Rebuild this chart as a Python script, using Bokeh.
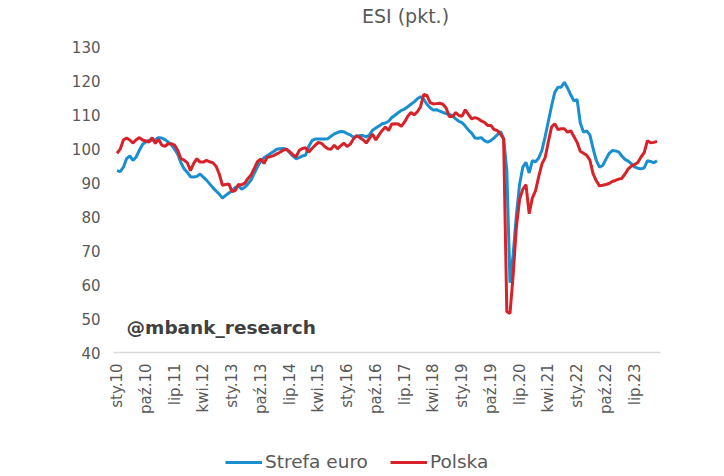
import math
from bokeh.plotting import figure
from bokeh.layouts import column
from bokeh.models import FixedTicker, Legend, LegendItem, Label, Range1d
from bokeh.core.properties import value
from bokeh.embed import file_html
from bokeh.resources import INLINE

# ---------------- data (monthly, from sty.10) ----------------
strefa_euro = [
    93.5, 93.2, 94.5, 97.0, 97.8, 96.5, 97.5, 99.5, 101.2, 101.9, 102.4, 102.4,
    102.6, 103.2, 103.1, 102.6, 101.9, 101.1, 99.8, 98.3, 95.8, 94.0, 93.0, 91.7,
    91.6, 91.8, 92.5, 91.6, 90.7, 89.6, 88.5, 87.5, 86.6, 85.4, 86.2, 86.9,
    87.6, 88.5, 89.0, 88.0, 88.6, 89.6, 90.8, 92.8, 94.7, 96.3, 97.3, 97.9,
    98.5, 99.1, 99.8, 99.9, 100.0, 99.8, 98.8, 97.8, 97.0, 97.3, 97.8, 98.0,
    100.6, 102.3, 102.8, 102.8, 102.8, 102.8, 102.9, 103.6, 104.3, 104.7, 105.0, 104.9,
    104.4, 104.0, 103.3, 103.5, 103.8, 103.8, 103.4, 104.0, 105.4, 106.0, 106.6, 107.3,
    107.5, 108.0, 109.1, 109.8, 110.5, 111.2, 111.6, 112.3, 113.0, 113.7, 114.6, 115.2,
    114.5, 113.0, 112.0, 111.3, 111.4, 111.0, 110.6, 110.3, 110.0, 109.6, 108.7, 108.0,
    107.6, 106.6, 105.4, 104.5, 103.1, 103.0, 103.2, 102.3, 101.9, 102.3, 103.1, 104.0,
    105.0, 103.0, 93.5, 60.5, 69.0, 80.5, 89.5, 94.5, 95.9, 92.8, 96.4, 96.1,
    97.2, 99.5, 103.5, 108.0, 112.5, 116.5, 118.0, 118.0, 119.5, 117.8, 115.8, 114.0,
    114.4, 107.5, 104.8, 105.2, 104.0, 100.0, 96.5, 94.5, 95.0, 96.8, 98.5, 99.4,
    99.3, 99.0, 97.8, 96.8, 96.3, 95.5, 94.6, 94.2, 94.0, 94.3, 96.4, 96.2,
    95.8, 96.4,
]
polska = [
    98.6, 99.8, 102.5, 103.1, 102.5, 101.6, 102.6, 103.2, 102.5, 102.2, 101.9, 103.2,
    101.5, 102.7, 101.0, 100.6, 101.4, 101.4, 101.0, 99.5, 97.0, 96.6, 95.8, 93.5,
    95.6, 97.0, 96.0, 96.0, 96.5, 96.1, 95.8, 94.8, 92.5, 89.2, 89.4, 89.6,
    87.3, 87.6, 89.4, 89.3, 89.8, 91.2, 92.3, 94.2, 96.2, 96.9, 95.6, 97.4,
    97.6, 97.9, 98.4, 98.9, 99.5, 99.8, 99.1, 98.2, 97.5, 99.4, 100.0, 100.2,
    98.9, 100.0, 100.9, 101.8, 101.5, 100.6, 99.9, 99.8, 101.0, 99.9, 100.8, 101.6,
    100.6, 101.3, 102.8, 103.8, 103.2, 102.6, 101.6, 103.0, 104.2, 102.5, 104.0, 105.3,
    106.3, 105.3, 107.2, 107.3, 107.2, 106.5, 107.8, 109.5, 110.6, 109.9, 110.8, 112.3,
    115.9, 115.6, 113.5, 113.1, 113.2, 113.3, 113.0, 111.9, 109.4, 109.4, 110.6, 109.7,
    109.5, 111.4, 110.0, 108.7, 109.1, 108.8, 108.1, 107.7, 106.8, 106.8, 105.6, 105.3,
    104.3, 102.8, 52.0, 51.5, 63.0, 77.0, 85.0, 88.0, 89.4, 80.8, 85.5, 87.6,
    91.8, 95.5, 97.3, 102.0, 106.3, 107.3, 105.6, 105.8, 105.8, 104.8, 105.2, 103.5,
    101.8, 99.2, 98.6, 98.0, 96.6, 92.6, 90.5, 89.0, 89.2, 89.4, 89.7, 90.3,
    90.6, 91.0, 91.2, 92.5, 94.0, 94.8, 95.3, 95.9, 97.5, 98.8, 102.3, 101.7,
    101.8, 102.1,
]
tick_labels = ["sty.10", "paź.10", "lip.11", "kwi.12", "sty.13", "paź.13", "lip.14",
               "kwi.15", "sty.16", "paź.16", "lip.17", "kwi.18", "sty.19", "paź.19",
               "lip.20", "kwi.21", "sty.22", "paź.22", "lip.23"]
tick_step = 9
series_names = ["Strefa euro", "Polska"]
title_text = "ESI (pkt.)"
watermark = "@mbank_research"

# ---------------- styling ----------------
FONT = "DejaVu Sans"
GREY = "#595959"
BLUE = "#1a8fd0"
RED = "#d7222a"
W = 720
FRAME_L, FRAME_R = 113, 660   # frame edges (px); the column aligns all frames

months = list(range(len(strefa_euro)))
tick_pos = [i * tick_step for i in range(len(tick_labels))]


def strip(height):
    f = figure(width=W, height=height, output_backend="svg", toolbar_location=None,
               x_range=Range1d(FRAME_L, FRAME_R), y_range=Range1d(0, height),
               x_axis_location=None, y_axis_location=None, min_border=0,
               min_border_left=FRAME_L, min_border_right=W - FRAME_R)
    f.outline_line_color = None
    f.grid.grid_line_color = None
    return f


# ---- title strip ----
t = strip(30)
t.text(x=[405], y=[15], text=[title_text], text_align="center", text_baseline="middle",
       text_font=value(FONT), text_font_size="19px", text_color=GREY)

# ---- main chart ----
p = figure(width=W, height=415, output_backend="svg", toolbar_location=None,
           x_range=Range1d(-1.1, 170.1), y_range=Range1d(40, 130),
           min_border_left=FRAME_L, min_border_right=W - FRAME_R, min_border_top=16,
           min_border_bottom=93)
p.outline_line_color = None
p.grid.grid_line_color = None

p.yaxis.ticker = FixedTicker(ticks=list(range(40, 131, 10)))
p.yaxis.axis_line_color = None
p.yaxis.major_tick_line_color = None
p.yaxis.minor_tick_line_color = None
p.yaxis.major_label_text_font = FONT
p.yaxis.major_label_text_font_size = "15px"
p.yaxis.major_label_text_color = GREY
p.yaxis.major_label_standoff = 7

p.xaxis.ticker = FixedTicker(ticks=tick_pos)
p.xaxis.major_label_overrides = {pos: lab for pos, lab in zip(tick_pos, tick_labels)}
p.xaxis.major_label_orientation = math.pi / 2
p.xaxis.axis_line_color = "#d9d9d9"
p.xaxis.axis_line_width = 1.5
p.xaxis.major_tick_line_color = None
p.xaxis.minor_tick_line_color = None
p.xaxis.major_label_text_font = FONT
p.xaxis.major_label_text_font_size = "15px"
p.xaxis.major_label_text_color = GREY
p.xaxis.major_label_standoff = 5

p.line(months, strefa_euro, line_width=3, line_color=BLUE)
p.line(months, polska, line_width=3, line_color=RED)

p.add_layout(Label(x=3.0, y=47.3, text=watermark, text_font=FONT,
                   text_font_style="bold", text_font_size="18.5px",
                   text_color="#404040", text_baseline="middle"))

# ---- legend strip (series drawn off-range there; only the legend shows) ----
lg = strip(27)
k_ez = lg.line(months, strefa_euro, line_width=3, line_color=BLUE)
k_pl = lg.line(months, polska, line_width=3, line_color=RED)
legend = Legend(items=[LegendItem(label=series_names[0], renderers=[k_ez]),
                       LegendItem(label=series_names[1], renderers=[k_pl])],
                orientation="horizontal", location=(112, 0))
legend.background_fill_alpha = 0
legend.border_line_color = None
legend.label_text_font = FONT
legend.label_text_font_size = "18.5px"
legend.label_text_color = GREY
legend.glyph_width = 37
legend.glyph_height = 14
legend.label_height = 14
legend.label_standoff = 3
legend.spacing = 22
legend.padding = 0
legend.margin = 0
lg.add_layout(legend, "center")

layout = column(t, p, lg, spacing=0)
open("out.html", "w").write(file_html(layout, INLINE))
